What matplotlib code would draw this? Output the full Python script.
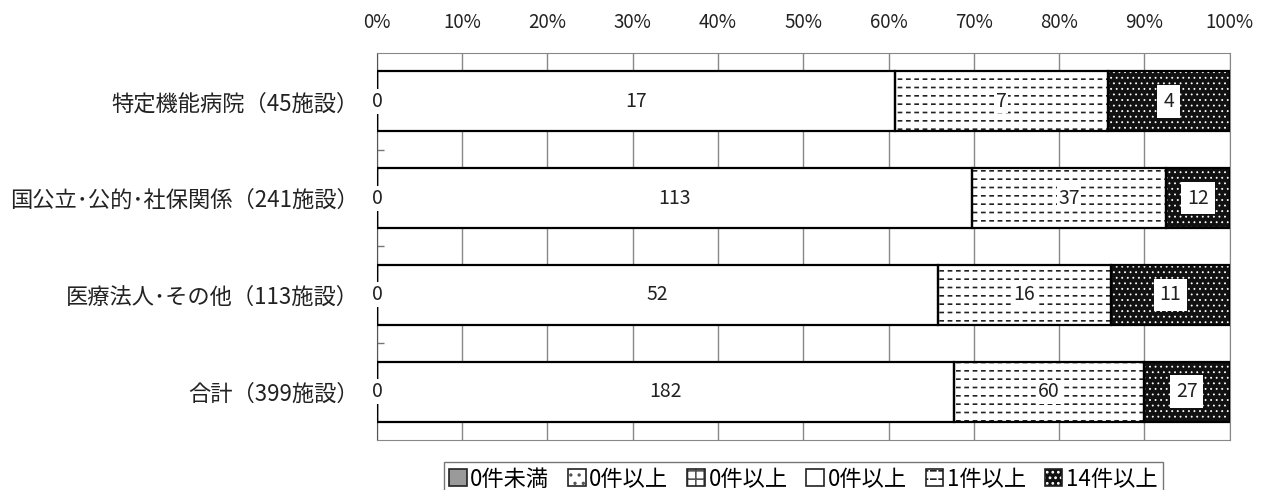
import numpy as np
import matplotlib.pyplot as plt
from matplotlib.patches import Patch

plt.rcParams['font.family'] = ['Noto Sans CJK JP', 'DejaVu Sans']
plt.rcParams['hatch.linewidth'] = 1.2

# Data (counts per category)
categories = ['特定機能病院（45施設）', '国公立･公的･社保関係（241施設）',
              '医療法人･その他（113施設）', '合計（399施設）']
series_names = ['0件未満', '0件以上', '0件以上', '0件以上', '1件以上', '14件以上']
below_zero = [0, 0, 0, 0]
zero_a = [0, 0, 0, 0]
zero_b = [0, 0, 0, 0]
zero_c = [17, 113, 52, 182]
one_plus = [7, 37, 16, 60]
fourteen_plus = [4, 12, 11, 27]
tick_values = list(range(0, 101, 10))

all_series = [below_zero, zero_a, zero_b, zero_c, one_plus, fourteen_plus]
totals = np.array(all_series).sum(axis=0).astype(float)

fig, ax = plt.subplots(figsize=(12.65, 4.9), dpi=100)
fig.subplots_adjust(left=0.298, right=0.972, top=0.892, bottom=0.102)

y = np.arange(len(categories))
h = 0.62
dark = '#111111'
left = np.zeros(len(categories))

# (face, hatch layers [(hatch, colour, hatch linewidth)], label bbox, show labels)
styles = [
    ('#9a9a9a', [], dict(boxstyle='square,pad=0.1', fc='white', ec='none'), True),
    ('white', [('..', '#555555', 1.0)], None, False),
    ('white', [('++', '#555555', 1.0)], None, False),
    ('white', [], None, True),
    ('white', [('--', '#222222', 1.2), ('||', 'white', 2.6)],
     dict(boxstyle='square,pad=0.08', fc='white', ec='none'), True),
    (dark, [('...', 'white', 0.6)],
     dict(boxstyle='square,pad=0.3', fc='white', ec='none'), True),
]

handles = []
for vals, (face, layers, bbox, show) in zip(all_series, styles):
    pct = np.array(vals) / totals * 100
    ax.barh(y, pct, left=left, height=h, color=face, linewidth=0, zorder=2)
    parts = [Patch(facecolor=face, edgecolor='none')]
    for k, (hatch, hcol, hlw) in enumerate(layers):
        with plt.rc_context({'hatch.linewidth': hlw}):
            ax.barh(y, pct, left=left, height=h, fill=False, edgecolor=hcol,
                    hatch=hatch, linewidth=0, zorder=2.1 + k * 0.1)
            parts.append(Patch(fill=False, edgecolor=hcol, hatch=hatch, linewidth=0))
    outline = ax.barh(y, pct, left=left, height=h, fill=False,
                      edgecolor='black', linewidth=1.6, zorder=3)
    parts.append(Patch(fill=False, edgecolor='#222222', linewidth=1.2))
    handles.append(tuple(parts))
    if show:
        kw = dict(bbox=bbox) if bbox else {}
        ax.bar_label(outline, labels=[str(v) for v in vals], label_type='center',
                     fontsize=14, color='#222222', zorder=5, **kw)
    left += pct

ax.set_xlim(0, 100)
ax.set_ylim(3.5, -0.5)
ax.xaxis.tick_top()
ax.set_xticks(tick_values)
ax.set_xticklabels([f'{v}%' for v in tick_values], fontsize=13.5, color='#222222')
ax.tick_params(axis='x', length=0, pad=14)
ax.set_yticks(y)
ax.set_yticklabels(categories, fontsize=16, color='#222222')
ax.tick_params(axis='y', which='major', length=0, pad=13)
ax.set_yticks([0.5, 1.5, 2.5], minor=True)
ax.tick_params(axis='y', which='minor', direction='in', length=5,
               color='#777777', width=1)
ax.grid(axis='x', color='#888888', linewidth=1, zorder=0)
ax.set_axisbelow(True)
for side in ['top', 'bottom', 'right']:
    ax.spines[side].set_color('#888888')
ax.spines['left'].set_color('#555555')

ax.legend(handles, series_names, loc='upper center', bbox_to_anchor=(0.5, -0.057),
          ncol=6, frameon=True, fancybox=False, edgecolor='#555555',
          handlelength=0.8, handleheight=0.8, handletextpad=0.15,
          columnspacing=0.85, borderpad=0.25, borderaxespad=0, fontsize=16)

plt.savefig('out.png', dpi=100)
